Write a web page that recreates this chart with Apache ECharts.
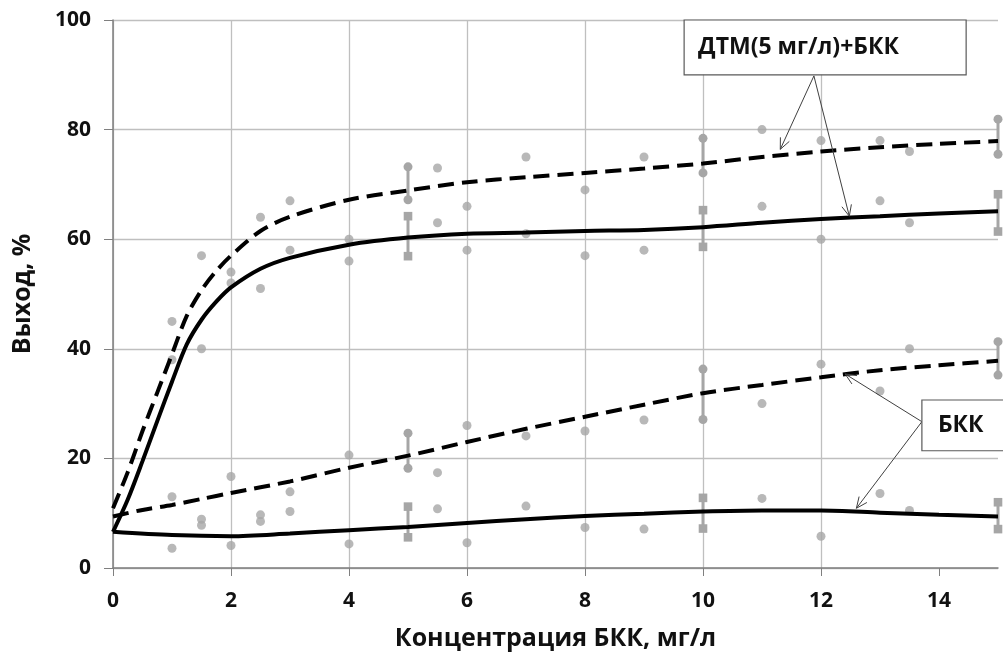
<!DOCTYPE html>
<html>
<head>
<meta charset="utf-8">
<script src="https://cdn.jsdelivr.net/npm/echarts@6/dist/echarts.min.js"></script>
<style>
html,body{margin:0;padding:0;background:#fff;}
#c{width:1003px;height:663px;}
</style>
</head>
<body>
<div id="c"></div>
<script>
// ---- data ----
const xTicks = [0, 2, 4, 6, 8, 10, 12, 14];
const yTicks = [0, 20, 40, 60, 80, 100];

// fitted curves
const dtmDashedX = [0,0.25,0.5,0.75,1,1.25,1.5,1.75,2,2.5,3,4,5,6,7,8,9,10,11,12,13,14,15];
const dtmDashedY = [10.9,17.5,25,32,39,46,50.7,54.2,57,61.5,64.1,67.2,68.9,70.4,71.3,72.1,72.9,73.8,75.0,76.0,76.8,77.4,77.9];
const dtmSolidX = [0,0.25,0.5,0.75,1,1.25,1.5,1.75,2,2.5,3,4,5,6,7,8,9,10,11,12,13,14,15];
const dtmSolidY = [6.6,12.5,19.5,26.8,34,40.8,45.3,48.6,51.2,54.6,56.6,59,60.3,61,61.2,61.5,61.7,62.2,63,63.7,64.2,64.7,65.1];
const bkkDashedX = [0,0.5,1,1.5,2,3,4,5,6,7,8,9,10,11,12,13,14,15];
const bkkDashedY = [9.4,10.6,11.5,12.6,13.7,15.8,18.3,20.5,23,25.4,27.6,29.8,31.9,33.4,34.8,36.1,37,37.8];
const bkkSolidX = [0,1,2,3,4,5,6,7,8,9,10,11,12,13,14,15];
const bkkSolidY = [6.6,6.0,5.8,6.3,6.9,7.5,8.2,8.9,9.5,9.9,10.3,10.5,10.5,10.1,9.7,9.4];

// measured points
const dtmPointsX = [1,1,1.5,1.5,2,2,2.5,2.5,3,3,4,4,5.5,5.5,6,6,7,7,8,8,9,9,11,11,12,12,13,13,13.5,13.5];
const dtmPointsY = [45,38,57,40,54,52,64,51,67,58,60,56,73,63,66,58,75,61,69,57,75,58,80,66,78,60,78,67,76,63];
const bkkPointsX = [1,1,1.5,1.5,2,2,2.5,2.5,3,3,4,4,5.5,5.5,6,6,7,7,8,8,9,9,11,11,12,12,13,13,13.5,13.5];
const bkkPointsY = [13,3.6,8.9,7.8,16.7,4.1,9.7,8.5,13.9,10.3,20.6,4.4,17.4,10.8,26,4.6,24.1,11.3,25,7.4,27,7.1,30,12.7,37.2,5.8,32.3,13.6,40,10.5];

// error bars [low, high] at errX
const errX = [5, 10, 15];
const errDtmDashed = [[67.2,73.2],[72.1,78.4],[75.5,81.9]];
const errDtmSolid  = [[56.9,64.2],[58.6,65.3],[61.4,68.2]];
const errBkkDashed = [[18.2,24.6],[27.1,36.3],[35.2,41.3]];
const errBkkSolid  = [[5.6,11.2],[7.2,12.8],[7.1,12.0]];

// annotations (data coordinates)
const annoTexts = ['ДТМ(5 мг/л)+БКК', 'БКК'];
const annoBoxes = [[9.68,100,14.46,90.0],[13.71,30.66,15.6,21.4]];
const annoFrom = [[11.88,89.8],[13.71,26.7]];
const annoTo = [[[11.31,76.4],[12.48,64.2]],[[12.41,35.4],[12.6,10.9]]];

// ---- chart ----
const FONT = 'Open Sans';
const GREY = '#a6a6a6';
const TXT = '#111';
const zip = (xs, ys) => xs.map((x, i) => [x, ys[i]]);

function curve(xs, ys, dashed) {
  return {
    type: 'line', data: zip(xs, ys), showSymbol: false, symbol: 'none',
    smooth: 0.3, z: 5, silent: true,
    lineStyle: { color: '#000', width: 4, type: dashed ? [16, 8] : 'solid', cap: 'butt' }
  };
}
function points(xs, ys) {
  return {
    type: 'scatter', data: zip(xs, ys), symbol: 'circle', symbolSize: 9,
    itemStyle: { color: GREY }, z: 3, silent: true
  };
}
function errSeries(ranges, capShape) {
  return {
    type: 'custom', z: 4, silent: true, clip: false,
    data: ranges.map((r, i) => [errX[i], r[0], r[1]]),
    renderItem: function (params, api) {
      const lo = api.coord([api.value(0), api.value(1)]);
      const hi = api.coord([api.value(0), api.value(2)]);
      const cap = (p) => capShape === 'circle'
        ? { type: 'circle', shape: { cx: p[0], cy: p[1], r: 4.5 }, style: { fill: GREY } }
        : { type: 'rect', shape: { x: p[0] - 4.3, y: p[1] - 4.3, width: 8.6, height: 8.6 }, style: { fill: GREY } };
      return {
        type: 'group', children: [
          { type: 'line', shape: { x1: lo[0], y1: lo[1], x2: hi[0], y2: hi[1] }, style: { stroke: GREY, lineWidth: 3 } },
          cap(lo), cap(hi)
        ]
      };
    }
  };
}

const chart = echarts.init(document.getElementById('c'), null, { renderer: 'canvas' });
chart.setOption({
  animation: false,
  backgroundColor: '#fff',
  grid: { left: 113, right: 5, top: 20, bottom: 95, containLabel: false },
  xAxis: {
    type: 'value', min: 0, max: 15, interval: 2,
    name: 'Концентрация БКК, мг/л', nameLocation: 'middle', nameGap: 58,
    nameTextStyle: { fontFamily: FONT, fontWeight: 'bold', fontSize: 25, color: TXT },
    axisLine: { show: true, lineStyle: { color: '#7f7f7f', width: 1.5 } },
    axisTick: { show: true, length: 8, lineStyle: { color: '#7f7f7f' }, customValues: xTicks },
    axisLabel: { fontFamily: FONT, fontWeight: 'bold', fontSize: 21, color: TXT, margin: 23, customValues: xTicks },
    splitLine: { show: true, showMaxLine: false, lineStyle: { color: '#bfbfbf', width: 1.3 } }
  },
  yAxis: {
    type: 'value', min: 0, max: 100, interval: 20,
    name: 'Выход, %', nameLocation: 'middle', nameGap: 78,
    nameTextStyle: { fontFamily: FONT, fontWeight: 'bold', fontSize: 25, color: TXT },
    axisLine: { show: true, lineStyle: { color: '#7f7f7f', width: 1.5 } },
    axisTick: { show: true, length: 9, lineStyle: { color: '#7f7f7f' } },
    axisLabel: { fontFamily: FONT, fontWeight: 'bold', fontSize: 21, color: TXT, margin: 22, formatter: v => yTicks.includes(v) ? String(v) : '' },
    splitLine: { show: true, lineStyle: { color: '#bfbfbf', width: 1.3 } }
  },
  series: [
    points(dtmPointsX, dtmPointsY),
    points(bkkPointsX, bkkPointsY),
    errSeries(errDtmDashed, 'circle'),
    errSeries(errDtmSolid, 'rect'),
    errSeries(errBkkDashed, 'circle'),
    errSeries(errBkkSolid, 'rect'),
    curve(dtmDashedX, dtmDashedY, true),
    curve(dtmSolidX, dtmSolidY, false),
    curve(bkkDashedX, bkkDashedY, true),
    curve(bkkSolidX, bkkSolidY, false)
  ]
});

// annotations drawn in data coordinates
const px = p => chart.convertToPixel({ gridIndex: 0 }, p);
const graphics = [];
annoTexts.forEach((t, i) => {
  const b = annoBoxes[i];
  const p1 = px([b[0], b[1]]), p2 = px([b[2], b[3]]);
  graphics.push({
    type: 'rect', z: 20,
    shape: { x: p1[0], y: p1[1], width: p2[0] - p1[0], height: p2[1] - p1[1] },
    style: { fill: '#fff', stroke: '#595959', lineWidth: 1.2 }
  });
  graphics.push({
    type: 'text', z: 21,
    x: p1[0] + (i === 0 ? 14 : 16), y: (p1[1] + p2[1]) / 2,
    style: { text: t, fontFamily: FONT, fontWeight: 'bold', fontSize: 23, fill: TXT, verticalAlign: 'middle', align: 'left' }
  });
  const f = px(annoFrom[i]);
  annoTo[i].forEach(tp => {
    const p = px(tp);
    graphics.push({ type: 'line', z: 19, shape: { x1: f[0], y1: f[1], x2: p[0], y2: p[1] }, style: { stroke: '#404040', lineWidth: 1 } });
    const ang = Math.atan2(f[1] - p[1], f[0] - p[0]);
    const L = 12, a = 0.42;
    graphics.push({
      type: 'polyline', z: 19,
      shape: { points: [[p[0] + L * Math.cos(ang + a), p[1] + L * Math.sin(ang + a)], [p[0], p[1]], [p[0] + L * Math.cos(ang - a), p[1] + L * Math.sin(ang - a)]] },
      style: { stroke: '#404040', lineWidth: 1, fill: null }
    });
  });
});
chart.setOption({ graphic: graphics });
</script>
</body>
</html>
